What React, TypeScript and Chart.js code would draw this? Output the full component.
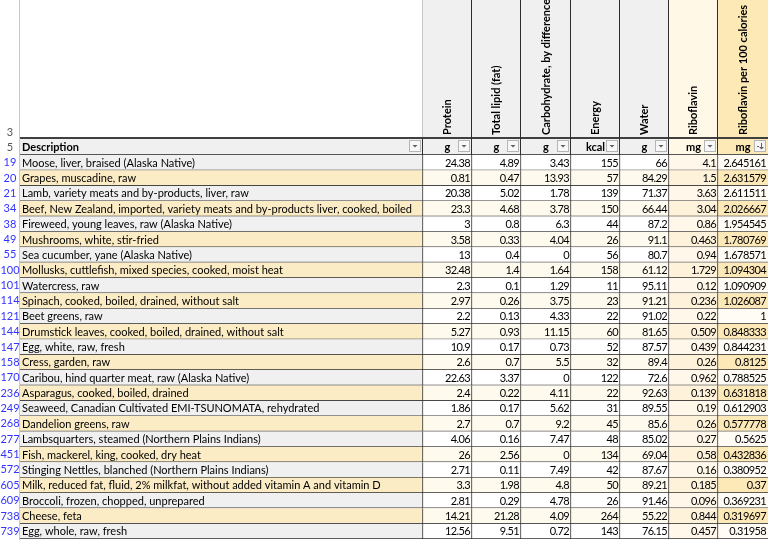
import React, { useEffect, useRef } from "react";
import { Chart, registerables } from "chart.js";

Chart.register(...registerables);

// ---------- data ----------
const ROW_IDS = ["19", "20", "21", "34", "38", "49", "55", "100", "101", "114", "121", "144", "147", "158", "170", "236", "249", "268", "277", "451", "572", "605", "609", "738", "739"];

const DESCRIPTIONS = [
  "Moose, liver, braised (Alaska Native)",
  "Grapes, muscadine, raw",
  "Lamb, variety meats and by-products, liver, raw",
  "Beef, New Zealand, imported, variety meats and by-products liver, cooked, boiled",
  "Fireweed, young leaves, raw (Alaska Native)",
  "Mushrooms, white, stir-fried",
  "Sea cucumber, yane (Alaska Native)",
  "Mollusks, cuttlefish, mixed species, cooked, moist heat",
  "Watercress, raw",
  "Spinach, cooked, boiled, drained, without salt",
  "Beet greens, raw",
  "Drumstick leaves, cooked, boiled, drained, without salt",
  "Egg, white, raw, fresh",
  "Cress, garden, raw",
  "Caribou, hind quarter meat, raw (Alaska Native)",
  "Asparagus, cooked, boiled, drained",
  "Seaweed, Canadian Cultivated EMI-TSUNOMATA, rehydrated",
  "Dandelion greens, raw",
  "Lambsquarters, steamed (Northern Plains Indians)",
  "Fish, mackerel, king, cooked, dry heat",
  "Stinging Nettles, blanched (Northern Plains Indians)",
  "Milk, reduced fat, fluid, 2% milkfat, without added vitamin A and vitamin D",
  "Broccoli, frozen, chopped, unprepared",
  "Cheese, feta",
  "Egg, whole, raw, fresh",
];

const PROTEIN = [24.38, 0.81, 20.38, 23.3, 3, 3.58, 13, 32.48, 2.3, 2.97, 2.2, 5.27, 10.9, 2.6, 22.63, 2.4, 1.86, 2.7, 4.06, 26, 2.71, 3.3, 2.81, 14.21, 12.56];
const LIPID = [4.89, 0.47, 5.02, 4.68, 0.8, 0.33, 0.4, 1.4, 0.1, 0.26, 0.13, 0.93, 0.17, 0.7, 3.37, 0.22, 0.17, 0.7, 0.16, 2.56, 0.11, 1.98, 0.29, 21.28, 9.51];
const CARB = [3.43, 13.93, 1.78, 3.78, 6.3, 4.04, 0, 1.64, 1.29, 3.75, 4.33, 11.15, 0.73, 5.5, 0, 4.11, 5.62, 9.2, 7.47, 0, 7.49, 4.8, 4.78, 4.09, 0.72];
const ENERGY = [155, 57, 139, 150, 44, 26, 56, 158, 11, 23, 22, 60, 52, 32, 122, 22, 31, 45, 48, 134, 42, 50, 26, 264, 143];
const WATER = [66, 84.29, 71.37, 66.44, 87.2, 91.1, 80.7, 61.12, 95.11, 91.21, 91.02, 81.65, 87.57, 89.4, 72.6, 92.63, 89.55, 85.6, 85.02, 69.04, 87.67, 89.21, 91.46, 55.22, 76.15];
const RIBOFLAVIN = [4.1, 1.5, 3.63, 3.04, 0.86, 0.463, 0.94, 1.729, 0.12, 0.236, 0.22, 0.509, 0.439, 0.26, 0.962, 0.139, 0.19, 0.26, 0.27, 0.58, 0.16, 0.185, 0.096, 0.844, 0.457];
const RIBO_PER_100 = [2.645161, 2.631579, 2.611511, 2.026667, 1.954545, 1.780769, 1.678571, 1.094304, 1.090909, 1.026087, 1, 0.848333, 0.844231, 0.8125, 0.788525, 0.631818, 0.612903, 0.577778, 0.5625, 0.432836, 0.380952, 0.37, 0.369231, 0.319697, 0.31958];

const HEADERS = ["Description", "Protein", "Total lipid (fat)", "Carbohydrate, by difference", "Energy", "Water", "Riboflavin", "Riboflavin per 100 calories"];
const UNITS = ["", "g", "g", "g", "kcal", "g", "mg", "mg"];

const NUMERIC_COLUMNS = [PROTEIN, LIPID, CARB, ENERGY, WATER, RIBOFLAVIN, RIBO_PER_100];

// ---------- layout / style ----------
const FONT = "Lato, 'Liberation Sans', sans-serif";
const FONT_SIZE = 11;
const NUM_LETTER_SPACING = "-0.6px";
const COL_WIDTHS = [403, 49, 49, 50, 49, 49, 49, 50];
const EDGES: number[] = COL_WIDTHS.reduce((acc: number[], w) => { acc.push(acc[acc.length - 1] + w); return acc; }, [0]);

const GRID_DARK = "#2e2e2e";
const GRID_LIGHT = "#c8c8c8";
const ROW_NUM_COLOR = "#3333ff";

// [even row, odd row]
const BG_DESC = ["#f0f0f0", "#fcecc5"];
const BG_NUM = ["#ffffff", "#fffaee"];
const BG_RIBO = ["#fff8ea", "#fef3da"];
const BG_RIBO100 = ["#fffcf5", "#fde8b7"];

const HEAD_BG_ROW3 = ["#ffffff", "#f0f0f0", "#f0f0f0", "#f0f0f0", "#f0f0f0", "#f0f0f0", "#fff8e7", "#fde9b5"];
const HEAD_BG_ROW5 = ["#f0f0f0", "#f0f0f0", "#f0f0f0", "#f0f0f0", "#f0f0f0", "#f0f0f0", "#fff8e7", "#fde9b5"];

function bgFor(col: number, row: number): string {
  const p = row % 2;
  if (col === 0) return BG_DESC[p];
  if (col === 6) return BG_RIBO[p];
  if (col === 7) return BG_RIBO100[p];
  return BG_NUM[p];
}

function fmt(v: number): string {
  return String(v);
}

const tablePlugin = {
  id: "tableText",
  beforeDraw(chart: any) {
    const ctx = chart.ctx;
    ctx.save();
    ctx.fillStyle = "#ffffff";
    ctx.fillRect(0, 0, chart.width, chart.height);
    ctx.restore();
  },
  afterDraw(chart: any) {
    const ctx: any = chart.ctx;
    const xs = chart.scales.x;
    const ys = chart.scales.y;
    const area = chart.chartArea;
    const px = EDGES.map((e) => xs.getPixelForValue(e));
    const row5Top = area.top - 16;
    const row3Bottom = row5Top - 1;
    const rightEdge = chart.width;
    ctx.save();

    // header backgrounds
    for (let c = 0; c < COL_WIDTHS.length; c++) {
      ctx.fillStyle = HEAD_BG_ROW3[c];
      ctx.fillRect(px[c], 0, px[c + 1] - px[c], row3Bottom);
      ctx.fillStyle = HEAD_BG_ROW5[c];
      ctx.fillRect(px[c], row5Top, px[c + 1] - px[c], area.top - row5Top);
    }

    // horizontal header lines
    ctx.fillStyle = "#404040";
    ctx.fillRect(px[0], row3Bottom - 1, rightEdge - px[0], 2);
    ctx.fillStyle = "#555555";
    ctx.fillRect(px[0], area.top - 1, rightEdge - px[0], 1);

    // vertical lines
    ctx.fillStyle = GRID_LIGHT;
    ctx.fillRect(px[0] - 1, 0, 1, chart.height);
    ctx.fillRect(px[1] - 1, 0, 1, row3Bottom - 1);
    ctx.fillStyle = GRID_DARK;
    ctx.fillRect(px[1] - 1, row5Top, 1, area.top - row5Top);
    for (let c = 2; c < COL_WIDTHS.length; c++) {
      ctx.fillRect(px[c] - 1, 0, 1, area.top);
    }

    // row header numbers (rows 3 and 5 + data rows from the y scale)
    ctx.font = `${FONT_SIZE}px ${FONT}`;
    ctx.fillStyle = "#555555";
    ctx.textAlign = "center";
    ctx.textBaseline = "middle";
    const numX = px[0] / 2;
    ctx.fillText("3", numX, row3Bottom - 6);
    ctx.fillText("5", numX, (row5Top + area.top) / 2);
    ctx.fillStyle = ROW_NUM_COLOR;
    chart.data.labels.forEach((lab: string, i: number) => {
      ctx.fillText(lab, numX, ys.getPixelForValue(i));
    });

    // row 5 header texts
    ctx.fillStyle = "#000000";
    ctx.font = `bold ${FONT_SIZE}px ${FONT}`;
    ctx.textAlign = "left";
    ctx.fillText(HEADERS[0], px[0] + 2, (row5Top + area.top) / 2);
    ctx.textAlign = "center";
    for (let c = 1; c < COL_WIDTHS.length; c++) {
      ctx.fillText(UNITS[c], (px[c] + px[c + 1]) / 2, (row5Top + area.top) / 2);
    }

    // rotated headers in row 3
    for (let c = 1; c < COL_WIDTHS.length; c++) {
      ctx.save();
      ctx.translate((px[c] + px[c + 1]) / 2, row3Bottom - 3);
      ctx.rotate(-Math.PI / 2);
      ctx.textAlign = "left";
      ctx.textBaseline = "middle";
      ctx.fillText(HEADERS[c], 0, 0);
      ctx.restore();
    }

    // filter buttons
    for (let c = 0; c < COL_WIDTHS.length; c++) {
      const bx = Math.round(px[c + 1]) - 13.5;
      const by = row5Top + 1.5;
      ctx.fillStyle = "#f7f7f7";
      ctx.fillRect(bx, by, 11, 11);
      ctx.strokeStyle = "#b5b5b5";
      ctx.lineWidth = 1;
      ctx.strokeRect(bx, by, 11, 11);
      ctx.fillStyle = "#606060";
      if (c === COL_WIDTHS.length - 1) {
        ctx.fillRect(bx + 6.5, by + 2.5, 1, 5);
        ctx.beginPath();
        ctx.moveTo(bx + 4.5, by + 6.5);
        ctx.lineTo(bx + 9.5, by + 6.5);
        ctx.lineTo(bx + 7, by + 9);
        ctx.closePath();
        ctx.fill();
        ctx.fillRect(bx + 2.5, by + 5.5, 2, 1);
      } else {
        ctx.beginPath();
        ctx.moveTo(bx + 3, by + 4.5);
        ctx.lineTo(bx + 8, by + 4.5);
        ctx.lineTo(bx + 5.5, by + 7);
        ctx.closePath();
        ctx.fill();
      }
    }

    // cell texts
    ctx.font = `${FONT_SIZE}px ${FONT}`;
    ctx.fillStyle = "#000000";
    ctx.textBaseline = "middle";
    for (let c = 0; c < COL_WIDTHS.length; c++) {
      const meta = chart.getDatasetMeta(c);
      meta.data.forEach((el: any, r: number) => {
        const { x, base, y } = el.getProps(["x", "base", "y"], true);
        const left = Math.min(x, base);
        const right = Math.max(x, base);
        if (c === 0) {
          ctx.letterSpacing = "0px";
          ctx.textAlign = "left";
          ctx.fillText(DESCRIPTIONS[r], left + 2, y + 0.5);
        } else {
          ctx.letterSpacing = NUM_LETTER_SPACING;
          ctx.textAlign = "right";
          ctx.fillText(fmt(NUMERIC_COLUMNS[c - 1][r]), right - 2, y + 0.5);
        }
      });
    }
    ctx.letterSpacing = "0px";
    ctx.restore();
  },
};

export default function App() {
  const ref = useRef<HTMLCanvasElement | null>(null);
  useEffect(() => {
    if (!ref.current) return;
    const chart = new Chart(ref.current, {
      type: "bar",
      data: {
        labels: ROW_IDS,
        datasets: COL_WIDTHS.map((_, c) => ({
          label: HEADERS[c],
          data: ROW_IDS.map(() => [EDGES[c], EDGES[c + 1]]) as any,
          backgroundColor: ROW_IDS.map((_, r) => bgFor(c, r)),
          borderColor: GRID_DARK,
          borderWidth: { top: 0, left: 0, right: c === COL_WIDTHS.length - 1 ? 0 : 1, bottom: 1 },
          borderSkipped: false,
          grouped: false,
          categoryPercentage: 1,
          barPercentage: 1,
        })),
      },
      options: {
        indexAxis: "y",
        responsive: false,
        animation: false,
        events: [],
        layout: { padding: { top: 155, bottom: 1, left: 0, right: 0 } },
        plugins: { legend: { display: false }, tooltip: { enabled: false } },
        scales: {
          x: { type: "linear", min: EDGES[0], max: EDGES[EDGES.length - 1], display: false },
          y: {
            type: "category",
            position: "left",
            grid: { display: false, drawTicks: false },
            border: { display: false },
            ticks: { display: false },
            afterFit: (s: any) => { s.width = 20; },
          },
        },
      },
      plugins: [tablePlugin],
    } as any);
    return () => chart.destroy();
  }, []);
  return (
    <div style={{ position: "fixed", left: 0, top: 0, width: 768, height: 540, background: "#fff" }}>
      <canvas ref={ref} width={768} height={540} style={{ display: "block" }} />
    </div>
  );
}
